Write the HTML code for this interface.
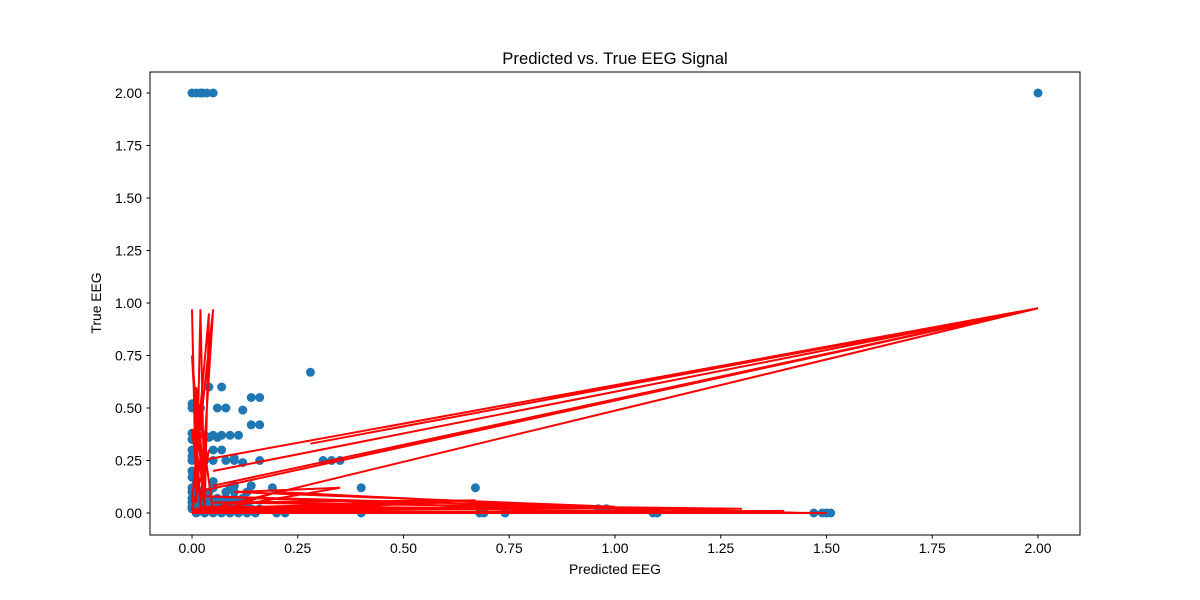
<!DOCTYPE html>
<html><head><meta charset="utf-8"><style>
body{margin:0;background:#fff;font-family:"Liberation Sans","DejaVu Sans",sans-serif}
</style></head><body>
<svg id="chart" width="1200" height="600" xmlns="http://www.w3.org/2000/svg" style="display:block">
<rect width="1200" height="600" fill="#fff"/>
<g id="marks"></g>
<rect x="150" y="72" width="930" height="463" fill="none" stroke="#000" stroke-width="1"/>
<g id="axes"></g>
<text x="615" y="64" text-anchor="middle" font-size="16.7">Predicted vs. True EEG Signal</text>
<text x="615" y="574" text-anchor="middle" font-size="13.9">Predicted EEG</text>
<text x="101" y="303" text-anchor="middle" font-size="13.9" transform="rotate(-90 101 303)">True EEG</text>
</svg>
<script>
const xTicks=[0,0.25,0.5,0.75,1.0,1.25,1.5,1.75,2.0];
const yTicks=[0,0.25,0.5,0.75,1.0,1.25,1.5,1.75,2.0];
const scatterX=[2,0,0.01,0.02,0.025,0.035,0.05,0.28,0.07,0.04,0.14,0.16,0.02,0.08,0.06,0.12,0,0,0.14,0.16,0,0.03,0.05,0.07,0.09,0.11,0,0,0.07,0,0,0.05,0.1,0.16,0.31,0.33,0.35,0,0.05,0.1,0.14,0.19,0.4,0.67,0,0,0.02,0.2,0.22,0.4,0.68,0.69,0.74,0.96,0.98,1.09,1.1,1.47,1.49,1.5,1.51,0.01,0.03,0.05,0.07,0.09,0.11,0.13,0.15,0.02,0.04,0.06,0.08,0.1,0.12,0.14,0.16,0.03,0.06,0.09,0.12,0,0.02,0.04,0.08,0.1,0.13,0,0.01,0.03,0.05,0.02,0.04,0.06,0.08,0.1,0.12,0.14,0.01,0.03,0.05,0.07,0.09,0.11,0.13,0.02,0.04,0.06,0.08,0.1,0.12,0.01,0.05,0.09,0.0,0.0,0.0,0.0,0.08,0.1,0.12,0.06,0.04];
const scatterY=[2,2,2,2,2,2,2,0.67,0.6,0.6,0.55,0.55,0.5,0.5,0.5,0.49,0.52,0.5,0.42,0.42,0.38,0.37,0.37,0.37,0.37,0.37,0.35,0.3,0.3,0.27,0.25,0.25,0.25,0.25,0.25,0.25,0.25,0.2,0.15,0.13,0.13,0.12,0.12,0.12,0.05,0.03,0.02,0,0,0,0,0,0,0.02,0.02,0,0,0,0,0,0,0,0,0,0,0,0,0,0,0.02,0.02,0.02,0.02,0.02,0.02,0.02,0.02,0.05,0.05,0.05,0.05,0.1,0.1,0.1,0.1,0.1,0.1,0.2,0.15,0.25,0.3,0.01,0.01,0.01,0.01,0.01,0.01,0.01,0.04,0.04,0.04,0.04,0.04,0.04,0.04,0.07,0.07,0.07,0.07,0.07,0.07,0.12,0.12,0.12,0.02,0.07,0.12,0.17,0.25,0.26,0.24,0.36,0.36];
const lineX=[0,2,0.02,2,0.05,2,0.05,2,0.28,2,0.01,0.0,0.01,0.02,0.03,0.04,0.0,0.05,0.02,0.0,0.03,1.5,0.02,1.3,0.05,0.67,0.0,1.0,0.1,0.35,0.0,1.45,0.03,0.8,0.0,1.2,0.2,0.05,0.01,0.03,0.0,0.02,0.04,0.0,0.6,0.02,1.4,0.0];
const lineY=[0,0.975,0.25,0.975,0.2,0.975,0.13,0.975,0.33,0.975,0.1,0.97,0.05,0.97,0.0,0.95,0.05,0.97,0.02,0.75,0.0,0.0,0.03,0.02,0.05,0.06,0.02,0.03,0.1,0.12,0.0,0.0,0.08,0.02,0.01,0.0,0.1,0.0,0.6,0.1,0.4,0.05,0.3,0.02,0.05,0.0,0.01,0.0];
const NS="http://www.w3.org/2000/svg";
const sx=v=>192+v*423, sy=v=>513-v*210;
const marks=document.getElementById('marks'), axes=document.getElementById('axes');
function mk(t,a,p){const e=document.createElementNS(NS,t);for(const k in a)e.setAttribute(k,a[k]);p.appendChild(e);return e;}
scatterX.forEach((x,i)=>{const c=mk('circle',{cx:sx(x),cy:sy(scatterY[i]),r:4.5,fill:'#1f77b4'},marks);

});
const pl=mk('polyline',{points:lineX.map((x,i)=>sx(x)+','+sy(lineY[i])).join(' '),fill:'none',stroke:'#ff0000','stroke-width':2},marks);


xTicks.forEach(v=>{const x=sx(v);mk('line',{x1:x,x2:x,y1:535,y2:538.5,stroke:'#000'},axes);
const t=mk('text',{x:x,y:553,'text-anchor':'middle','font-size':13.9},axes);t.textContent=v.toFixed(2);

});
yTicks.forEach(v=>{const y=sy(v);mk('line',{x1:146.5,x2:150,y1:y,y2:y,stroke:'#000'},axes);
const t=mk('text',{x:142,y:y+5,'text-anchor':'end','font-size':13.9},axes);t.textContent=v.toFixed(2);

});
</script>
</body></html>
